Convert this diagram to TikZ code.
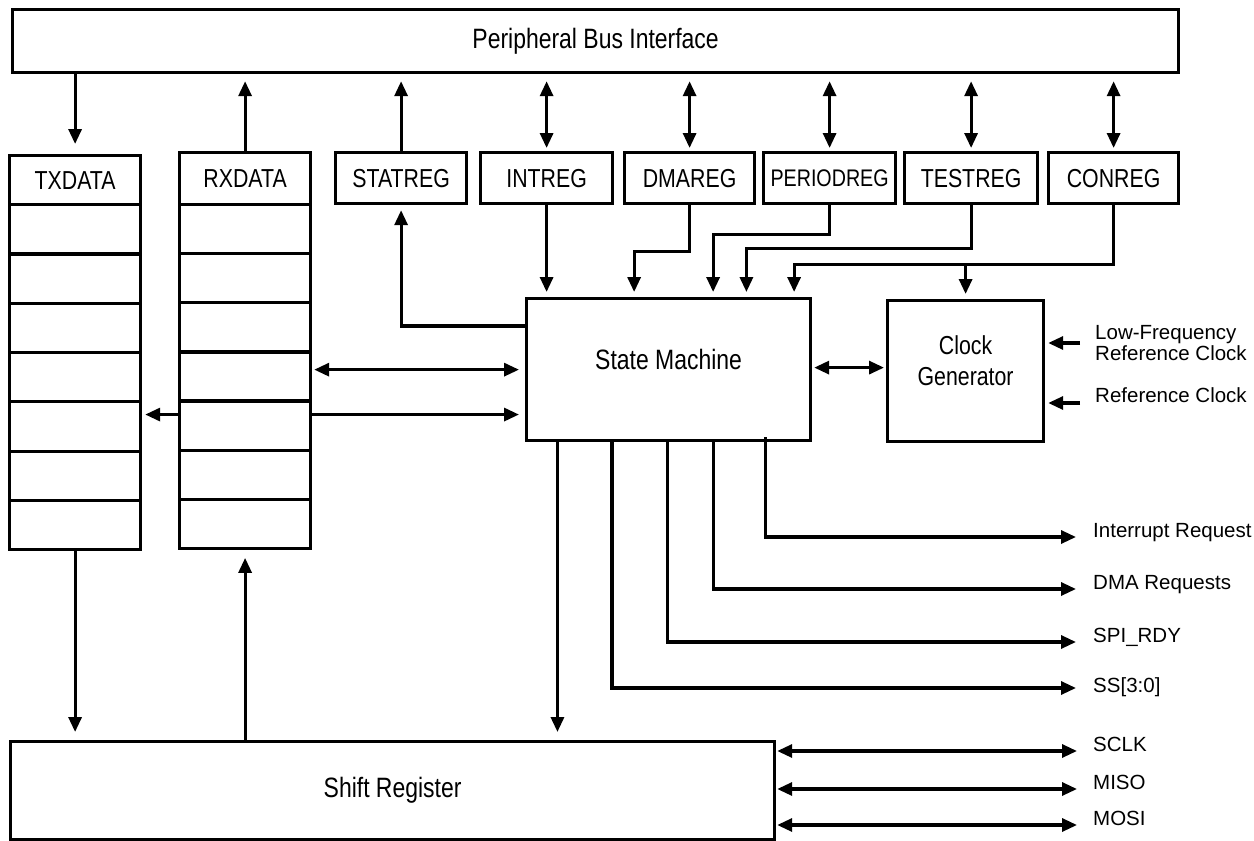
\documentclass[tikz,border=0pt]{standalone}
\usepackage{fontspec}
\setmainfont{Liberation Sans}
\newfontfamily\narrowsans[FakeStretch=0.82]{Liberation Sans}
\usetikzlibrary{arrows.meta,calc}
\begin{document}
\begin{tikzpicture}[x=1pt,y=-1pt,
  box/.style={draw, line width=3.2pt, rectangle, inner sep=0pt, anchor=north west},
  wire/.style={line width=3.2pt},
  arr/.style={wire, -{Triangle[length=15pt,width=13pt]}},
  dbl/.style={wire, {Triangle[length=15pt,width=13pt]}-{Triangle[length=15pt,width=13pt]}},
  big/.style={font=\narrowsans\fontsize{28}{33}\selectfont},
  reg/.style={font=\narrowsans\fontsize{26}{31}\selectfont},
  sig/.style={font=\fontsize{20.5}{21}\selectfont, inner sep=0pt, anchor=base west},
]
\useasboundingbox (0,0) rectangle (1254,841);

% bus
\node[box,big,minimum width=1166pt,minimum height=63pt] (bus) at (11,8) {Peripheral Bus Interface};

% FIFOs
\node[box,reg,minimum width=131pt,minimum height=49pt] (txh) at (8,154) {TXDATA};
\foreach \i in {1,...,7}
  \node[box,minimum width=131pt,minimum height=49.3pt] (tx\i) at (8,{203+(\i-1)*49.3}) {};
\node[box,reg,minimum width=131pt,minimum height=52pt] (rxh) at (178,151) {RXDATA};
\foreach \i in {1,...,7}
  \node[box,minimum width=131pt,minimum height=49.1pt] (rx\i) at (178,{203+(\i-1)*49.1}) {};

% registers
\node[box,reg,minimum width=131pt,minimum height=51pt] (stat) at (334,151) {STATREG};
\node[box,reg,minimum width=132pt,minimum height=51pt] (int) at (479,151) {INTREG};
\node[box,reg,minimum width=130pt,minimum height=51pt] (dma) at (623,151) {DMAREG};
\node[box,font=\narrowsans\fontsize{24}{28}\selectfont,minimum width=132pt,minimum height=51pt] (per) at (762,151) {PERIODREG};
\node[box,reg,minimum width=133pt,minimum height=51pt] (test) at (903,151) {TESTREG};
\node[box,reg,minimum width=130pt,minimum height=51pt] (con) at (1047,151) {CONREG};

% state machine, clock generator, shift register
\node[box,big,minimum width=284pt,minimum height=142pt,text depth=21pt] (sm) at (525,297) {State Machine};
\node[box,reg,align=center,minimum width=156pt,minimum height=141pt,text depth=22pt] (clk) at (886,299) {Clock\\Generator};
\node[box,big,minimum width=764pt,minimum height=98pt] (shift) at (9,740) {Shift Register};

% labels
\node[sig,align=left] (lfl) at (1095,360) {Low-Frequency\\Reference Clock};
\node[sig] (rfl) at (1095,402) {Reference Clock};
\node[sig] (irq) at (1093,537) {Interrupt Request};
\node[sig] (dmar) at (1093,589) {DMA Requests};
\node[sig] (rdy) at (1093,642) {SPI\_RDY};
\node[sig] (ss) at (1093,692) {SS[3:0]};
\node[sig] (sclk) at (1093,751) {SCLK};
\node[sig] (miso) at (1093,789) {MISO};
\node[sig] (mosi) at (1093,825) {MOSI};

% bus connections
\draw[arr, shorten >=10pt] (bus.south -| txh.north) -- (txh.north);
\draw[arr, shorten >=7pt] (rxh.north) -- (bus.south -| rxh.north);
\draw[arr, shorten >=7pt] (stat.north) -- (bus.south -| stat.north);
\foreach \r in {int,dma,per,test,con}
  \draw[dbl, shorten >=3pt, shorten <=7pt] (bus.south -| \r.north) -- (\r.north);

% registers <-> state machine
\draw[arr, shorten >=5pt] ($(sm.north west)!0.2!(sm.south west)$) -| (stat.south);
\draw[arr, shorten >=5pt] (int.south) -- (int.south |- sm.north);
\coordinate (dmain) at ($(sm.north west)!0.380!(sm.north east)$);
\coordinate (perin) at ($(sm.north west)!0.655!(sm.north east)$);
\coordinate (testin) at ($(sm.north west)!0.771!(sm.north east)$);
\coordinate (conin) at ($(sm.north west)!0.937!(sm.north east)$);
\draw[arr, shorten >=5pt] (dma.south) -- ++(0,46) -| (dmain);
\draw[arr, shorten >=5pt] (per.south) -- ++(0,29) -| (perin);
\draw[arr, shorten >=5pt] (test.south) -- ++(0,43) -| (testin);
\draw[arr, shorten >=5pt] (con.south) -- ++(0,59) -| (conin);
\coordinate (cj) at ($(con.south)+(0,59)$);
\draw[arr, shorten >=5pt] (cj -| clk.north) -- (clk.north);

% FIFO <-> state machine
\draw[dbl, shorten <=2pt, shorten >=6pt] ([yshift=6.8pt]rx4.east) -- ([yshift=6.8pt]rx4.east -| sm.west);
\draw[arr, shorten >=6pt] ([yshift=11pt]rx5.east) -- ([yshift=11pt]rx5.east -| sm.west);
\draw[arr, shorten >=3pt] ([yshift=11pt]rx5.west) -- ([yshift=11pt]rx5.west -| tx5.east);
\draw[arr, shorten >=8pt] (tx7.south) -- (tx7.south |- shift.north);
\draw[arr, shorten >=8pt] (shift.north -| rx7.south) -- (rx7.south);

% state machine <-> clock generator
\draw[dbl, shorten <=2pt, shorten >=2pt] ([yshift=2pt]sm.east) -- ([yshift=2pt]sm.east -| clk.west);
\coordinate (lfin) at (1080,343);
\coordinate (rfin) at (1080,403);
\draw[arr, shorten >=3pt] (lfin) -- (lfin -| clk.east);
\draw[arr, shorten >=3pt] (rfin) -- (rfin -| clk.east);

% state machine outputs
\coordinate (o1) at ($(sm.south west)!0.113!(sm.south east)$);
\coordinate (o2) at ($(sm.south west)!0.303!(sm.south east)$);
\coordinate (o3) at ($(sm.south west)!0.496!(sm.south east)$);
\coordinate (o4) at ($(sm.south west)!0.655!(sm.south east)$);
\coordinate (o5) at ($(sm.south west)!0.838!(sm.south east)$);
\draw[arr, shorten >=8pt] (o1) -- (o1 |- shift.north);
\draw[arr] (o2) |- ([xshift=-17pt,yshift=4pt]ss.base west);
\draw[arr] (o3) |- ([xshift=-17pt]rdy.base west);
\draw[arr] (o4) |- ([xshift=-17pt]dmar.base west);
\draw[arr] ([yshift=5pt]o5) |- ([xshift=-17pt]irq.base west);

% shift register <-> SPI lines
\draw[dbl, shorten <=1pt, shorten >=16pt] (shift.east |- sclk.base west) -- (sclk.base west);
\draw[dbl, shorten <=1pt, shorten >=16pt] (shift.east |- miso.base west) -- (miso.base west);
\draw[dbl, shorten <=1pt, shorten >=16pt] (shift.east |- mosi.base west) -- (mosi.base west);
\end{tikzpicture}
\end{document}
